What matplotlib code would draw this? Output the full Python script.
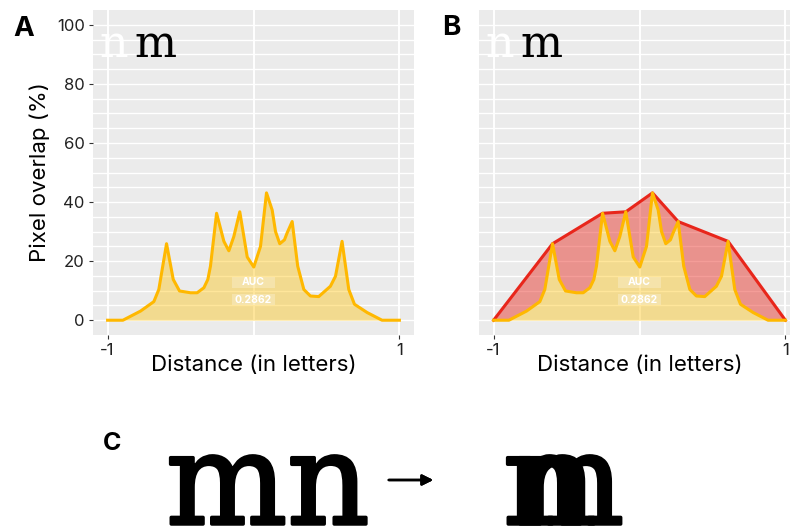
import matplotlib
matplotlib.use("Agg")
from matplotlib import pyplot as plt
from matplotlib import patheffects as pe
from matplotlib.patches import Rectangle
import numpy as np

# overlap profile
dist = [-1.0, -0.895, -0.774, -0.683, -0.649, -0.596, -0.55, -0.507, -0.432, -0.386,
        -0.34, -0.313, -0.295, -0.253, -0.203, -0.169, -0.135, -0.094, -0.043, 0.002,
        0.048, 0.089, 0.128, 0.151, 0.18, 0.212, 0.23, 0.265, 0.303, 0.345,
        0.39, 0.447, 0.527, 0.562, 0.607, 0.653, 0.692, 0.779, 0.881, 1.0]
overlap = [0, 0, 3.1, 6.3, 10.4, 25.9, 13.8, 9.9, 9.3, 9.3,
           11, 13.8, 18.3, 36.2, 26.7, 23.5, 28.3, 36.7, 21.4, 18,
           25, 43.1, 37.3, 30, 25.9, 27.2, 29.5, 33.4, 18.3, 10.4,
           8.2, 8, 11.5, 14.9, 26.7, 10.4, 5.4, 2.6, 0, 0]
auc_text = ["AUC", "0.2862"]
y_ticks = [0, 20, 40, 60, 80, 100]
x_ticks = [-1, 1]
x_labels = ["-1", "1"]

plt.rcParams['font.family'] = ['Inter', 'DejaVu Sans']

x = np.array(dist)
y = np.array(overlap)

# peaks (local maxima) plus end points -> red envelope
pk = [i for i in range(1, len(y) - 1) if y[i] > y[i - 1] and y[i] > y[i + 1]]
env_x = np.r_[x[0], x[pk], x[-1]]
env_y = np.r_[y[0], y[pk], y[-1]]

yellow = '#FFB800'
yellow_fill = '#FFC107'
red = '#E8261B'

fig = plt.figure(figsize=(7.9, 5.29), dpi=100)
W, H = 790, 529


def make_ax(left):
    ax = fig.add_axes([left / W, 1 - 335 / H, 321 / W, 325 / H])
    ax.set_facecolor('#EBEBEB')
    for s in ax.spines.values():
        s.set_visible(False)
    ax.set_xlim(-1.1, 1.1)
    ax.set_ylim(-5, 105)
    for v in np.arange(0, 101, 5):
        ax.axhline(v, color='white', lw=1.0, zorder=0)
    for v in [-1, 0, 1]:
        ax.axvline(v, color='white', lw=1.4, zorder=0)
    ax.set_xticks(x_ticks)
    ax.set_xticklabels(x_labels)
    ax.tick_params(axis='both', length=3, width=0.8, color='#333333',
                   labelsize=12, labelcolor='#222222', pad=3)
    ax.set_xlabel('Distance (in letters)', fontsize=16)
    ax.xaxis.set_label_coords(0.5, -0.063)
    return ax


def auc_label(ax):
    for txt, yy in zip(auc_text, [12.9, 7.0]):
        ax.add_patch(Rectangle((-0.145, yy - 1.85), 0.29, 3.7, facecolor='white',
                               alpha=0.25, edgecolor='none', zorder=4))
        ax.text(0, yy, txt, ha='center', va='center', fontsize=7.5, color='white',
                fontweight='bold', zorder=5)


def nm_letters(ax):
    ax.text(0.02, 0.96, 'n', transform=ax.transAxes, fontsize=32, color='white',
            family='DejaVu Serif', va='top', ha='left')
    ax.text(0.13, 0.96, 'm', transform=ax.transAxes, fontsize=32, color='black',
            family='DejaVu Serif', va='top', ha='left')


# panel A
axA = make_ax(93)
axA.fill_between(x, 0, y, color=yellow_fill, alpha=0.4, lw=0, zorder=2)
axA.plot(x, y, color=yellow, lw=2.2, zorder=3)
axA.set_yticks(y_ticks)
axA.set_ylabel('Pixel overlap (%)', fontsize=16)
axA.yaxis.set_label_coords(-0.135, 0.5)
auc_label(axA)
nm_letters(axA)

# panel B
axB = make_ax(479)
env_at_x = np.interp(x, env_x, env_y)
axB.fill_between(x, y, env_at_x, color=red, alpha=0.45, lw=0, zorder=2)
axB.fill_between(x, 0, y, color=yellow_fill, alpha=0.4, lw=0, zorder=2)
axB.plot(env_x, env_y, color=red, lw=2.2, zorder=3)
axB.plot(x, y, color=yellow, lw=2.2, zorder=3)
axB.set_yticks(y_ticks)
axB.tick_params(axis='y', left=False, labelleft=False)
auc_label(axB)
nm_letters(axB)

# panel letters
fig.text(13 / W, 1 - 29 / H, 'A', fontsize=20, fontweight='bold', va='center')
fig.text(442 / W, 1 - 28 / H, 'B', fontsize=20, fontweight='bold', va='center')
fig.text(103 / W, 1 - 443 / H, 'C', fontsize=18, fontweight='bold', va='center')

# panel C: letters (stroke to make them a bit heavier)
heavy = [pe.withStroke(linewidth=2.5, foreground='black')]
c_font = dict(fontsize=92, family='DejaVu Serif', va='baseline', ha='left',
              path_effects=heavy)
fig.text(166 / W, 1 - 524 / H, 'mn', **c_font)
fig.text(503 / W, 1 - 524 / H, 'm', **c_font)
fig.text(515 / W, 1 - 524 / H, 'n', **c_font)
fig.add_artist(plt.annotate('', xy=(436 / W, 1 - 480 / H), xytext=(386 / W, 1 - 480 / H),
                            xycoords='figure fraction',
                            arrowprops=dict(arrowstyle='-|>', color='black', lw=1.8,
                                            mutation_scale=16)))

fig.savefig('out.png', dpi=100)
